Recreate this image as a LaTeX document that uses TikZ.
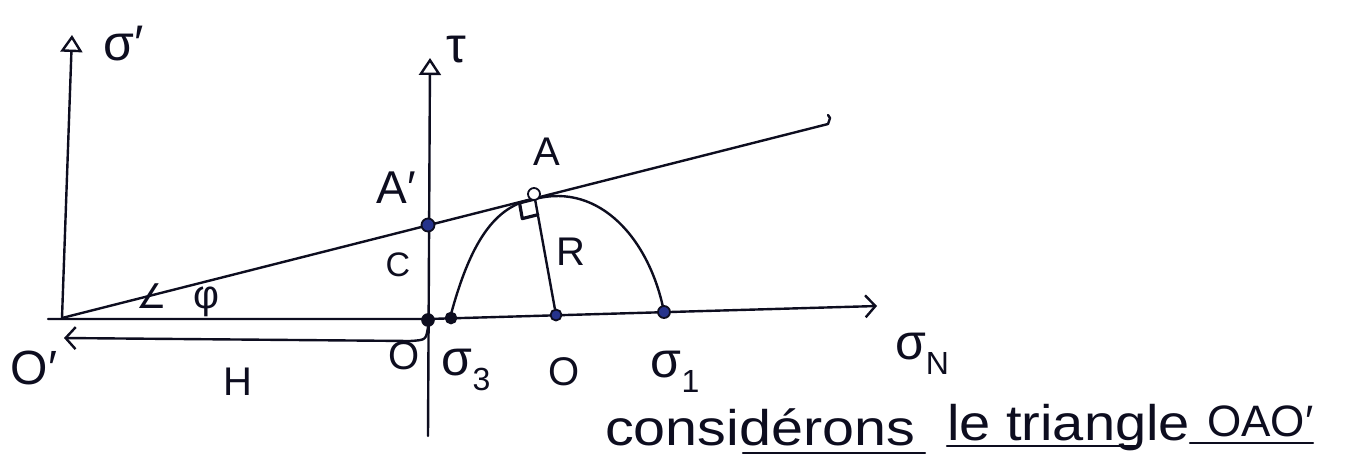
\documentclass[tikz,border=0pt]{standalone}
\usepackage{fontspec}
\setmainfont{Liberation Sans}
\newfontfamily\symfont{DejaVu Sans}
\usetikzlibrary{arrows.meta}
\definecolor{ink}{rgb}{0.05,0.05,0.12}
\definecolor{dotblue}{rgb}{0.15,0.2,0.55}
\newcommand{\lowsub}[1]{\raisebox{-0.3em}{\fontsize{32}{36}\selectfont #1}}
\begin{document}
\begin{tikzpicture}[x=1pt,y=-1pt,
  ln/.style={draw=ink, line width=2.4pt, line cap=round, line join=round},
  lbl/.style={text=ink, font=\fontsize{40}{44}\selectfont, inner sep=0pt},
  big/.style={text=ink, font=\fontsize{50}{56}\selectfont, inner sep=0pt},
  ptfill/.style={circle, draw=ink, line width=1.8pt, fill=dotblue, minimum size=13pt, inner sep=0pt},
  ptdark/.style={circle, draw=ink, line width=1.6pt, fill=ink, minimum size=12pt, inner sep=0pt},
  ptopen/.style={circle, draw=ink, line width=1.8pt, fill=white, minimum size=12pt, inner sep=0pt},
  axtip/.style={-{Triangle[open, length=17pt, width=22pt, line width=2.4pt]}},
  barb/.style={-{Straight Barb[length=10pt, width=22pt, line width=2.4pt]}}
]
\useasboundingbox[fill=white] (0,0) rectangle (1348,459);

% coordinates
\coordinate (Op) at (62,318);
\coordinate (sigtop) at (72,35);
\coordinate (O) at (428,319);
\coordinate (taubot) at (428,436);
\coordinate (tautop) at (430,58);
\coordinate (xleft) at (48,319);
\coordinate (xright) at (877,306);
\coordinate (lineend) at (828,124);
\coordinate (T) at (535,199);
\coordinate (Q1) at (519.5,202.9);
\coordinate (Q2) at (522.3,218.6);
\coordinate (Q3) at (537.8,214.7);
\coordinate (Hend) at (64,338);

% axes
\draw[ln, axtip] (Op) -- (sigtop);
\draw[ln, axtip] (taubot) -- (tautop);
\draw[ln, barb] (xleft) -- (O) -- (xright);

% Coulomb line
\draw[ln] (Op) -- (lineend) -- ++(2,-6) -- ++(-2,-3);

% Mohr arc
\draw[ln] (450,318) .. controls (470,242) and (495,205) .. (T)
          .. controls (600,182) and (650,240) .. (664,312);

% radius and right angle
\node[ptfill, minimum size=11pt] (C0) at (556,315) {};
\draw[ln] (C0) -- (T);
\draw[ln, line width=3.2pt] (T) -- (Q1) -- (Q2) -- (Q3);

% H dimension
\draw[ln, barb] (428,327) .. controls (426,340) .. (410,341) -- (Hend);

% points
\node[ptfill] (Ap) at (428,225) {};
\node[ptdark] (Opt) at (428,320) {};
\node[ptdark, minimum size=11pt] (s3) at (451,318) {};
\node[ptfill, minimum size=12pt] (s1) at (664,312) {};
\node[ptopen] (A) at (534,194) {};

% labels
\node[big] (lsig) at (124,44) {σ′};
\node[big] (ltau) at (456,50) {τ};
\node[lbl, font=\fontsize{46}{50}\selectfont] (lAp) at (396,188) {A′};
\node[lbl, font=\fontsize{34}{38}\selectfont] (lC) at (398,265) {C};
\node[lbl] (lA) at (547,152) {A};
\node[lbl] (lR) at (571,252) {R};
\node[lbl, font=\fontsize{48}{52}\selectfont] (lOp) at (34,368) {O′};
\node[lbl] (lH) at (238,382) {H};
\node[lbl] (lO) at (404,356) {O};
\node[big] (ls3) at (466,370) {σ\lowsub{3}};
\node[lbl] (lO2) at (564,372) {O};
\node[big] (ls1) at (675,372) {σ\lowsub{1}};
\node[big] (lsN) at (922,354) {σ\lowsub{N}};
\node[lbl] (lphi) at (178,300) {{\symfont\fontsize{34}{38}\selectfont ∠}\hspace{26pt}φ};

% bottom text
\node[big, anchor=base west] (t1) at (605,445) {\scalebox{1.15}[1]{considérons}};
\node[big, anchor=base west] (t2) at (947,440) {\scalebox{1.12}[1]{le triangle}};
\node[lbl, font=\fontsize{44}{48}\selectfont, anchor=base west] (t3) at (1207,436) {OAO′};
\draw[ln] (743,453) -- (925,453);
\draw[ln] (947,446) -- (1137,446);
\draw[ln] (1190,443) -- (1313,443);
\end{tikzpicture}
\end{document}
